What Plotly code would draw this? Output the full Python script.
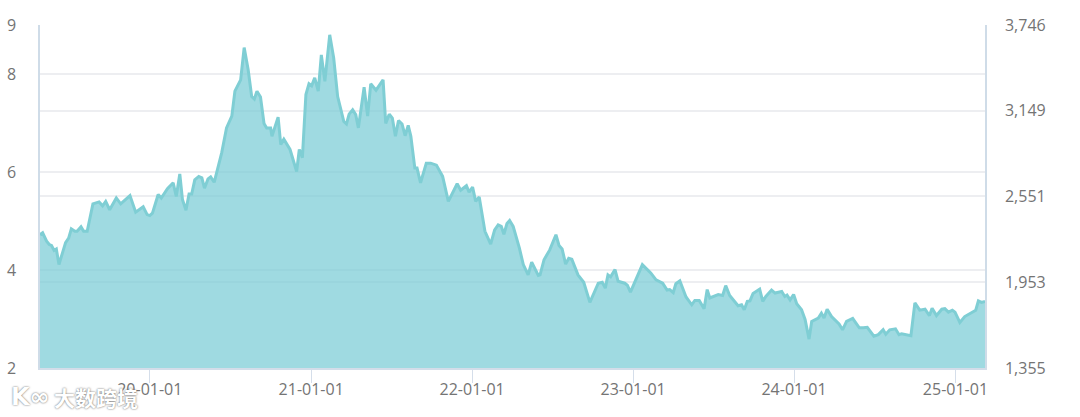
import pandas as pd
import plotly.graph_objects as go

# Days relative to 2020-01-01
day_offsets = [-249,-243,-234,-228,-223,-217,-212,-206,-197,-191,-184,-178,-170,-165,-156,-150,-142,-129,-115,-107,-100,-91,-76,-66,-45,-32,-15,-6,0,6,19,26,40,53,60,68,74,82,89,95,102,111,118,124,132,138,146,163,174,186,193,206,214,223,231,237,243,251,259,265,274,277,291,297,304,318,333,339,346,354,361,367,374,382,389,397,408,417,426,432,440,446,452,460,467,473,
486,494,501,513,529,535,543,550,557,564,572,579,586,592,601,606,614,627,637,650,664,677,697,705,718,724,732,739,747,760,773,782,790,797,803,810,816,824,838,847,858,866,881,885,894,907,921,928,935,943,950,957,971,984,998,1017,1026,1033,1039,1045,1055,1062,1077,1083,1090,1117,1136,1148,1163,1173,1179,1187,1193,1202,1216,1229,1236,1246,1257,1264,1270,1289,
1299,1306,1315,1334,1342,1348,1355,1361,1368,1383,1390,1397,1410,1418,1433,1440,1445,1452,1460,1467,1478,1486,1495,1501,1516,1523,1529,1536,1546,1563,1571,1580,1594,1601,1609,1618,1627,1642,1652,1663,1669,1678,1691,1699,1705,1726,1735,1746,1758,1768,1774,1784,1796,1803,1811,1820,1826,1837,1848,1873,1879,1886,1894]

series_values = [4.72,4.76,4.59,4.52,4.50,4.40,4.43,4.11,4.38,4.56,4.65,4.84,4.79,4.79,4.88,4.79,4.79,5.35,5.39,5.31,5.40,5.23,5.47,5.35,5.52,5.18,5.29,5.13,5.11,5.16,5.54,5.47,5.66,5.78,5.50,5.96,5.44,5.22,5.55,5.55,5.84,5.91,5.88,5.67,5.86,5.90,5.79,6.39,6.90,7.14,7.65,7.88,8.54,8.09,7.54,7.49,7.65,7.53,6.99,6.90,6.90,6.73,7.12,6.56,6.67,6.46,6.01,6.46,6.29,7.58,7.80,7.76,7.92,7.65,8.39,7.85,8.80,8.33,7.54,7.34,7.03,6.98,7.18,7.27,7.17,6.90,
7.73,7.14,7.80,7.67,7.88,6.99,7.18,7.10,6.73,7.05,6.98,6.74,6.95,6.73,6.08,6.08,5.78,6.18,6.18,6.14,5.91,5.40,5.76,5.63,5.72,5.59,5.69,5.40,5.49,4.79,4.53,4.82,4.92,4.89,4.73,4.95,5.01,4.89,4.45,4.11,3.90,4.16,3.89,3.90,4.21,4.41,4.72,4.50,4.43,4.12,4.24,4.22,3.90,3.75,3.34,3.73,3.75,3.63,3.90,3.86,4.01,3.77,3.73,3.69,3.55,4.11,3.94,3.80,3.73,3.59,3.60,3.54,3.72,3.78,3.45,3.29,3.38,3.38,3.21,3.60,3.43,3.50,
3.48,3.68,3.48,3.27,3.29,3.19,3.36,3.37,3.52,3.61,3.36,3.46,3.59,3.53,3.56,3.46,3.49,3.39,3.50,3.31,3.19,2.99,2.59,2.95,3.02,3.12,3.02,3.20,3.05,2.90,2.78,2.95,3.01,2.92,2.82,2.82,2.83,2.65,2.68,2.78,2.69,2.78,2.80,2.68,2.70,2.66,3.33,3.18,3.20,3.07,3.22,3.07,3.20,3.21,3.14,3.18,3.14,2.93,3.05,3.18,3.37,3.34,3.36]

date_ticks = ["2020-01-01","2021-01-01","2022-01-01","2023-01-01","2024-01-01","2025-01-01"]
date_labels = ["20-01-01","21-01-01","22-01-01","23-01-01","24-01-01","25-01-01"]
left_ticks = [2,4,6,8,9]
right_ticks = [1355,1953,2551,3149,3746]
right_labels = ["1,355","1,953","2,551","3,149","3,746"]

dates = pd.Timestamp("2020-01-01") + pd.to_timedelta(day_offsets, unit="D")

GRID = "#EDEEF1"
AXIS = "#CFDCE8"
TEXT = "#747474"
FONT = "Open Sans"
SIZE = 16

fig = go.Figure()
fig.add_trace(go.Scatter(
    x=dates, y=series_values, mode="lines",
    line=dict(color="#7FCED4", width=3, shape="linear"),
    fill="tozeroy", fillcolor="rgba(122,204,214,0.72)",
    hoverinfo="skip", showlegend=False,
))
# Second axis carries the right-hand scale
fig.add_trace(go.Scatter(
    x=[dates[0]], y=[right_ticks[0]], yaxis="y2", mode="lines",
    line=dict(width=0), hoverinfo="skip", showlegend=False,
))

fig.update_layout(
    width=1080, height=417,
    margin=dict(l=40, r=95, t=25, b=49, pad=0),
    paper_bgcolor="white", plot_bgcolor="white",
    font=dict(family=FONT, size=SIZE, color=TEXT),
    xaxis=dict(
        type="date", range=[dates[0], dates[-1]], automargin=False,
        tickmode="array", tickvals=date_ticks, ticktext=date_labels,
        ticks="outside", ticklen=13, tickwidth=1, tickcolor="#D5DEEA",
        ticklabelstandoff=-7,
        showgrid=False, zeroline=False,
        showline=True, linecolor="#D3DDE9", linewidth=2,
        tickfont=dict(family=FONT, size=SIZE, color=TEXT),
    ),
    yaxis=dict(
        range=[2, 9], tickmode="array", tickvals=left_ticks, automargin=False,
        ticks="", ticklabelstandoff=19,
        showgrid=True, gridcolor=GRID, gridwidth=1.5, zeroline=False,
        showline=True, linecolor=AXIS, linewidth=1.5,
        tickfont=dict(family=FONT, size=SIZE, color=TEXT),
    ),
    yaxis2=dict(
        range=[1355, 3746], overlaying="y", side="right", automargin=False,
        tickmode="array", tickvals=right_ticks, ticktext=right_labels,
        ticks="", ticklabelstandoff=15,
        showgrid=True, gridcolor=GRID, gridwidth=1.5, zeroline=False,
        showline=True, linecolor=AXIS, linewidth=1.5,
        tickfont=dict(family=FONT, size=SIZE, color=TEXT),
    ),
    annotations=[
        dict(text="<b>大数跨境</b>", xref="paper", yref="paper", x=0.0125, y=-0.0845,
             xanchor="left", yanchor="middle", showarrow=False,
             font=dict(family="Noto Sans CJK SC", size=21, color="#FFFFFF",
                       shadow="0px 0px 2px #555555")),
        dict(text="<b>K∞</b>", xref="paper", yref="paper", x=-0.033, y=-0.0845,
             xanchor="left", yanchor="middle", showarrow=False,
             font=dict(family="DejaVu Sans", size=24, color="#FFFFFF",
                       shadow="0px 0px 2px #555555")),
    ],
)

fig.write_html("out.html", config=dict(displayModeBar=False),
               post_script="document.body.style.margin='0';")
